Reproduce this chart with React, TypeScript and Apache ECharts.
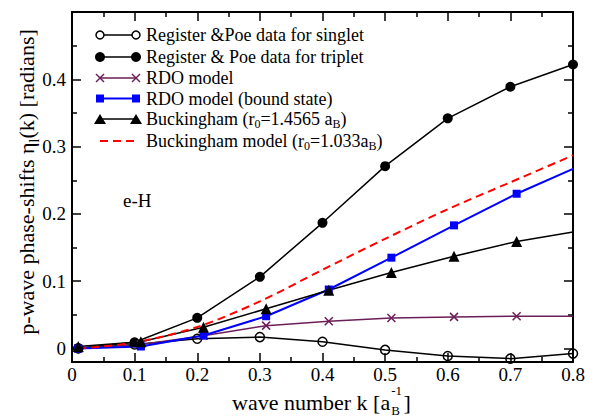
import React, { useEffect, useRef } from 'react';
import * as echarts from 'echarts';

// Wave numbers k (units of 1/a_B) at which the phase shifts are tabulated
const waveNumbers = [0.01, 0.1, 0.2, 0.3, 0.4, 0.5, 0.6, 0.7, 0.8];
const modelWaveNumbers = [0.01, 0.11, 0.21, 0.31, 0.41, 0.51, 0.61, 0.71, 0.8];

// p-wave phase shifts (radians)
const singletShifts = [0.0, 0.006, 0.0145, 0.017, 0.01, -0.002, -0.011, -0.015, -0.0075];
const tripletShifts = [0.0005, 0.0094, 0.0456, 0.1065, 0.1868, 0.271, 0.342, 0.389, 0.422];
const rdoShifts = [0.0, 0.006, 0.019, 0.034, 0.0406, 0.0455, 0.047, 0.048, 0.048];
const rdoBoundShifts = [0.0, 0.003, 0.0193, 0.048, 0.0877, 0.135, 0.183, 0.23, 0.267];
const buckinghamShifts = [0.003, 0.01, 0.0317, 0.059, 0.0867, 0.113, 0.137, 0.159, 0.173];
const buckinghamModelShifts = [0.0, 0.009, 0.032, 0.07, 0.117, 0.163, 0.207, 0.247, 0.287];

// Axis ticks
const yLabelValues = [0, 0.1, 0.2, 0.3, 0.4];
const yMajorTicks = [0, 0.1, 0.2, 0.3, 0.4, 0.5];
const yMinorTicks = [0.05, 0.15, 0.25, 0.35, 0.45];

const SERIF = "'Liberation Serif', 'Times New Roman', serif";
const BLACK = '#000000';
const PURPLE = '#6b1e58';
const BLUE = '#0000ff';
const RED = '#ff0000';

const CROSS = 'path://M0 0L10 10M10 0L0 10';

function toPoints(xs: number[], ys: number[], lastWithoutMarker = false) {
  return ys.map((v, i) =>
    lastWithoutMarker && i === ys.length - 1
      ? { value: [xs[i], v], symbol: 'none' }
      : [xs[i], v]
  );
}

function measure(text: string, size: number): number {
  const c = document.createElement('canvas').getContext('2d');
  if (!c) return text.length * size * 0.45;
  c.font = `${size}px ${SERIF}`;
  return c.measureText(text).width;
}

function legendMarker(kind: string, cx: number, cy: number, color: string): any[] {
  switch (kind) {
    case 'openCircle':
      return [{ type: 'circle', shape: { cx, cy, r: 4 }, style: { fill: '#fff', stroke: color, lineWidth: 1.5 } }];
    case 'dot':
      return [{ type: 'circle', shape: { cx, cy, r: 5 }, style: { fill: color } }];
    case 'cross':
      return [
        { type: 'line', shape: { x1: cx - 4, y1: cy - 4, x2: cx + 4, y2: cy + 4 }, style: { stroke: color, lineWidth: 1.5 } },
        { type: 'line', shape: { x1: cx - 4, y1: cy + 4, x2: cx + 4, y2: cy - 4 }, style: { stroke: color, lineWidth: 1.5 } },
      ];
    case 'square':
      return [{ type: 'rect', shape: { x: cx - 4, y: cy - 4, width: 8, height: 8 }, style: { fill: color } }];
    case 'triangle':
      return [{ type: 'polygon', shape: { points: [[cx, cy - 5], [cx + 6, cy + 5], [cx - 6, cy + 5]] }, style: { fill: color } }];
    default:
      return [];
  }
}

const legendRows = [
  { text: 'Register &Poe data for singlet', kind: 'openCircle', color: BLACK, width: 1.5 },
  { text: 'Register & Poe data for triplet', kind: 'dot', color: BLACK, width: 1.5 },
  { text: 'RDO model', kind: 'cross', color: PURPLE, width: 1.5 },
  { text: 'RDO model (bound state)', kind: 'square', color: BLUE, width: 2 },
  { text: 'Buckingham (r{sub|0}=1.4565 a{sub|B})', kind: 'triangle', color: BLACK, width: 1.5 },
  { text: 'Buckingham model (r{sub|0}=1.033a{sub|B})', kind: 'dash', color: RED, width: 2 },
];
const legendRowY = [35, 57, 78, 98.5, 119, 141];

function buildGraphics(): any[] {
  const els: any[] = [];
  const subRich = {
    sub: { fontSize: 12, fontFamily: SERIF, fill: BLACK, lineHeight: 12, verticalAlign: 'bottom' },
  };

  legendRows.forEach((row, i) => {
    const y = legendRowY[i];
    const x1 = 100;
    const x2 = 136;
    const hasSub = row.text.indexOf('{sub|') >= 0;
    els.push({
      type: 'line',
      shape: { x1, y1: y, x2, y2: y },
      style: {
        stroke: row.color,
        lineWidth: row.width,
        lineDash: row.kind === 'dash' ? [8, 5] : null,
      },
    });
    els.push(...legendMarker(row.kind, x1, y, row.color));
    els.push(...legendMarker(row.kind, x2, y, row.color));
    els.push({
      type: 'text',
      x: 146,
      y,
      style: {
        text: row.text,
        fontSize: 18,
        fontFamily: SERIF,
        fill: BLACK,
        align: 'left',
        verticalAlign: 'middle',
        lineHeight: hasSub ? 21 : 17,
        rich: subRich,
      },
    });
  });

  // system label inside the plot
  els.push({
    type: 'text',
    x: 123,
    y: 200,
    style: { text: 'e-H', fontSize: 19, fontFamily: SERIF, fill: BLACK, align: 'left', verticalAlign: 'middle' },
  });

  // y-axis title, read bottom to top
  els.push({
    type: 'text',
    x: 26.5,
    y: 182,
    rotation: Math.PI / 2,
    style: {
      text: 'p-wave phase-shifts η{sub|l}(k) [radians]',
      fontSize: 22,
      fontFamily: SERIF,
      fill: BLACK,
      align: 'center',
      verticalAlign: 'middle',
      lineHeight: 30,
      rich: { sub: { fontSize: 14, fontFamily: SERIF, fill: BLACK, lineHeight: 14, verticalAlign: 'bottom' } },
    },
  });

  // x-axis title with stacked super/subscript on a_B
  const main = 'wave number k [a';
  const left = 232;
  const wMain = measure(main, 22);
  const scriptX = left + wMain + 1;
  const wScript = Math.max(measure('-1', 13), measure('B', 13));
  els.push({
    type: 'text', x: left, y: 402.6,
    style: { text: main, fontSize: 22, fontFamily: SERIF, fill: BLACK, align: 'left', verticalAlign: 'middle' },
  });
  els.push({
    type: 'text', x: scriptX, y: 390.5,
    style: { text: '-1', fontSize: 13, fontFamily: SERIF, fill: BLACK, align: 'left', verticalAlign: 'middle' },
  });
  els.push({
    type: 'text', x: scriptX, y: 410,
    style: { text: 'B', fontSize: 13, fontFamily: SERIF, fill: BLACK, align: 'left', verticalAlign: 'middle' },
  });
  els.push({
    type: 'text', x: scriptX + wScript + 1.5, y: 402.6,
    style: { text: ']', fontSize: 22, fontFamily: SERIF, fill: BLACK, align: 'left', verticalAlign: 'middle' },
  });

  return els;
}

export default function App() {
  const ref = useRef<HTMLDivElement>(null);

  useEffect(() => {
    if (!ref.current) return;
    const chart = echarts.init(ref.current, null, { renderer: 'svg' });

    const frameLine = { show: true, onZero: false, lineStyle: { color: BLACK, width: 2 } };
    const majorTick = { show: true, inside: true, length: 9, lineStyle: { color: BLACK, width: 1.5 } };
    const minorTick = { show: true, splitNumber: 2, length: 5, lineStyle: { color: BLACK, width: 1.5 } };
    const tickFont = { fontSize: 19, fontFamily: SERIF, color: BLACK };

    const xCommon = {
      type: 'value',
      min: 0,
      max: 0.8,
      interval: 0.1,
      axisLine: frameLine,
      axisTick: majorTick,
      minorTick,
      splitLine: { show: false },
      minorSplitLine: { show: false },
    };
    const yCommon = {
      type: 'value',
      min: -0.02,
      max: 0.5,
      splitLine: { show: false },
    };

    const option: any = {
      animation: false,
      backgroundColor: '#ffffff',
      grid: { left: 72, right: 22, top: 12, bottom: 55, containLabel: false },
      xAxis: [
        { ...xCommon, position: 'bottom', axisLabel: { ...tickFont, margin: 3 } },
        { ...xCommon, position: 'top', axisLabel: { show: false } },
      ],
      yAxis: [
        {
          ...yCommon,
          position: 'left',
          axisLine: frameLine,
          axisTick: { ...majorTick, customValues: yMajorTicks },
          axisLabel: { ...tickFont, margin: 6, customValues: yLabelValues },
        },
        {
          ...yCommon,
          position: 'left',
          axisLine: { show: false, onZero: false },
          axisTick: { show: true, inside: true, length: 5, lineStyle: { color: BLACK, width: 1.5 }, customValues: yMinorTicks },
          axisLabel: { show: false },
        },
        {
          ...yCommon,
          position: 'right',
          axisLine: frameLine,
          axisTick: { ...majorTick, customValues: yMajorTicks },
          axisLabel: { show: false },
        },
        {
          ...yCommon,
          position: 'right',
          axisLine: { show: false, onZero: false },
          axisTick: { show: true, inside: true, length: 5, lineStyle: { color: BLACK, width: 1.5 }, customValues: yMinorTicks },
          axisLabel: { show: false },
        },
      ],
      series: [
        {
          name: 'Register &Poe data for singlet',
          type: 'line',
          data: toPoints(waveNumbers, singletShifts),
          symbol: 'circle',
          symbolSize: 9,
          clip: false,
          lineStyle: { color: BLACK, width: 1.5 },
          itemStyle: { color: 'rgba(0,0,0,0)', borderColor: BLACK, borderWidth: 1.5 },
        },
        {
          name: 'Register & Poe data for triplet',
          type: 'line',
          data: toPoints(waveNumbers, tripletShifts),
          symbol: 'circle',
          symbolSize: 10,
          clip: false,
          lineStyle: { color: BLACK, width: 1.5 },
          itemStyle: { color: BLACK },
        },
        {
          name: 'RDO model',
          type: 'line',
          data: toPoints(modelWaveNumbers, rdoShifts, true),
          symbol: CROSS,
          symbolSize: 8,
          clip: false,
          lineStyle: { color: PURPLE, width: 1.5 },
          itemStyle: { color: 'none', borderColor: PURPLE, borderWidth: 1.5 },
        },
        {
          name: 'RDO model (bound state)',
          type: 'line',
          data: toPoints(modelWaveNumbers, rdoBoundShifts, true),
          symbol: 'rect',
          symbolSize: 8,
          clip: false,
          lineStyle: { color: BLUE, width: 2 },
          itemStyle: { color: BLUE },
        },
        {
          name: 'Buckingham (r0=1.4565 aB)',
          type: 'line',
          data: toPoints(modelWaveNumbers, buckinghamShifts, true),
          symbol: 'triangle',
          symbolSize: 11,
          clip: false,
          lineStyle: { color: BLACK, width: 1.5 },
          itemStyle: { color: BLACK },
        },
        {
          name: 'Buckingham model (r0=1.033aB)',
          type: 'line',
          data: toPoints(waveNumbers, buckinghamModelShifts),
          symbol: 'none',
          smooth: 0.3,
          clip: false,
          lineStyle: { color: RED, width: 2, type: [8, 5] },
        },
      ],
      graphic: { elements: buildGraphics() },
    };

    chart.setOption(option);
    return () => chart.dispose();
  }, []);

  return (
    <div
      ref={ref}
      style={{ position: 'fixed', left: 0, top: 0, width: 595, height: 417, background: '#fff' }}
    />
  );
}
